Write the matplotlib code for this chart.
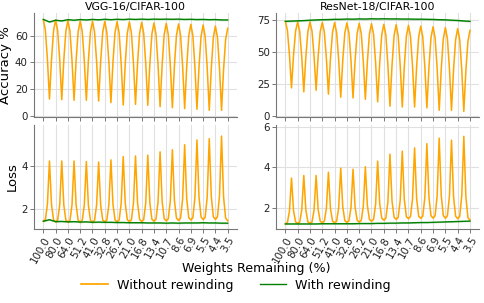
import numpy as np
import matplotlib
matplotlib.use("Agg")
import matplotlib.pyplot as plt
from matplotlib.lines import Line2D

# ---------------- data ----------------
weights_remaining = ["100.0", "80.0", "64.0", "51.2", "41.0", "32.8", "26.2", "21.0",
                     "16.8", "13.4", "10.7", "8.6", "6.9", "5.5", "4.4", "3.5"]
samples_per_round = 6   # orange curves: samples per pruning round
green_per_round = 2     # green curves: samples per pruning round

vgg_acc_no_rewind = [
    72, 64.0, 42.3, 12.5, 42.2, 63.9,
    71.8, 63.8, 41.9, 12, 41.7, 63.4,
    71.3, 63.3, 41.4, 11.5, 41.3, 63.0,
    71, 63.0, 41.3, 11.5, 41.2, 62.9,
    70.8, 62.8, 40.9, 11, 40.9, 62.7,
    70.7, 62.5, 40.3, 9.8, 40.2, 62.4,
    70.5, 62.1, 39.3, 8, 39.2, 62.0,
    70.3, 62.0, 39.4, 8.5, 39.3, 61.8,
    70, 61.7, 38.9, 7.8, 38.7, 61.2,
    69.5, 61.1, 38.2, 6.8, 38.0, 60.8,
    69.2, 60.7, 37.6, 6, 37.4, 60.4,
    68.8, 60.3, 37.1, 5.3, 36.9, 60.0,
    68.5, 60.0, 36.7, 4.8, 36.4, 59.5,
    68, 59.4, 36, 4, 35.6, 58.7,
    67.2, 58.7, 35.6, 4, 34.8, 57.3,
    65.5]
vgg_acc_rewind = [72.2, 70.3, 71.6, 71.1, 72.0, 71.6, 72.1, 71.8, 72.2, 71.9, 72.3,
                  72.0, 72.3, 72.1, 72.4, 72.2, 72.4, 72.2, 72.4, 72.3, 72.4, 72.3,
                  72.4, 72.2, 72.3, 72.1, 72.2, 72.0, 72.1, 71.8, 71.8]

res_acc_no_rewind = [
    73.7, 66.8, 47.8, 21.9, 47.6, 66.3,
    73.2, 65.9, 46.0, 18.8, 46.0, 65.9,
    73.2, 66.1, 46.6, 20, 46.5, 65.8,
    72.9, 65.4, 45.0, 17, 44.9, 65.2,
    72.7, 64.9, 43.7, 14.6, 43.5, 64.7,
    72.4, 64.6, 43.2, 14, 43.1, 64.3,
    72.1, 64.2, 42.6, 13, 42.5, 64.0,
    71.9, 63.7, 41.5, 11, 41.2, 63.3,
    71.4, 62.9, 39.5, 7.6, 39.4, 62.6,
    71.1, 62.5, 39.1, 7, 38.8, 62.1,
    70.6, 62.1, 38.8, 7, 38.5, 61.6,
    70, 61.5, 38.2, 6.3, 37.9, 61.0,
    69.5, 60.8, 37.0, 4.4, 36.6, 60.2,
    68.8, 60.2, 36.6, 4.4, 36.2, 59.5,
    68, 59.4, 35.8, 3.6, 35.2, 58.2,
    66.7]
res_acc_rewind = [73.7, 73.9, 74.1, 74.3, 74.6, 74.8, 75.0, 75.1, 75.3, 75.3, 75.5,
                  75.4, 75.6, 75.5, 75.7, 75.6, 75.7, 75.6, 75.6, 75.5, 75.5, 75.4,
                  75.4, 75.3, 75.2, 75.0, 74.9, 74.6, 74.4, 74.0, 73.7]

vgg_loss_no_rewind = [
    1.45, 1.53, 2.23, 4.23, 2.21, 1.50,
    1.42, 1.50, 2.21, 4.23, 2.20, 1.50,
    1.41, 1.49, 2.20, 4.23, 2.20, 1.49,
    1.41, 1.49, 2.19, 4.20, 2.19, 1.49,
    1.41, 1.49, 2.19, 4.18, 2.19, 1.50,
    1.42, 1.51, 2.22, 4.28, 2.22, 1.51,
    1.42, 1.51, 2.26, 4.43, 2.27, 1.52,
    1.43, 1.52, 2.28, 4.46, 2.29, 1.53,
    1.44, 1.53, 2.30, 4.50, 2.30, 1.54,
    1.45, 1.55, 2.35, 4.65, 2.36, 1.57,
    1.47, 1.57, 2.39, 4.75, 2.40, 1.59,
    1.49, 1.60, 2.47, 4.98, 2.48, 1.61,
    1.51, 1.62, 2.54, 5.20, 2.56, 1.64,
    1.53, 1.64, 2.57, 5.26, 2.58, 1.65,
    1.54, 1.66, 2.62, 5.38, 2.56, 1.59,
    1.47]
vgg_loss_rewind = [1.45, 1.52, 1.43, 1.44, 1.42, 1.43, 1.41, 1.42, 1.40, 1.41, 1.40,
                   1.40, 1.39, 1.39, 1.38, 1.38, 1.38, 1.37, 1.37, 1.37, 1.36, 1.37,
                   1.36, 1.37, 1.37, 1.37, 1.38, 1.37, 1.37, 1.36, 1.36]

res_loss_no_rewind = [
    1.20, 1.27, 1.83, 3.46, 1.85, 1.30,
    1.23, 1.30, 1.89, 3.59, 1.89, 1.30,
    1.23, 1.30, 1.89, 3.59, 1.91, 1.33,
    1.26, 1.34, 1.96, 3.75, 1.96, 1.34,
    1.26, 1.34, 2.01, 3.95, 2.03, 1.36,
    1.28, 1.36, 2.01, 3.90, 2.03, 1.38,
    1.30, 1.38, 2.06, 4.02, 2.09, 1.42,
    1.34, 1.43, 2.17, 4.30, 2.20, 1.48,
    1.39, 1.49, 2.30, 4.64, 2.33, 1.53,
    1.43, 1.53, 2.37, 4.79, 2.39, 1.56,
    1.46, 1.57, 2.44, 4.95, 2.45, 1.58,
    1.48, 1.59, 2.51, 5.16, 2.52, 1.60,
    1.49, 1.61, 2.59, 5.43, 2.59, 1.61,
    1.49, 1.61, 2.57, 5.33, 2.54, 1.58,
    1.46, 1.58, 2.60, 5.52, 2.55, 1.51,
    1.39]
res_loss_rewind = [1.20, 1.20, 1.20, 1.20, 1.20, 1.20, 1.21, 1.21, 1.21, 1.21, 1.21,
                   1.21, 1.22, 1.22, 1.22, 1.23, 1.23, 1.24, 1.24, 1.25, 1.25, 1.26,
                   1.27, 1.27, 1.28, 1.29, 1.30, 1.31, 1.32, 1.33, 1.34]

# spread (std) of the runs
vgg_acc_rewind_std = 0.6
res_acc_rewind_std = 0.6
vgg_loss_rewind_std = 0.03
res_loss_rewind_std = 0.03
acc_no_rewind_std = 0.8
loss_no_rewind_std = 0.05

titles = ["VGG-16/CIFAR-100", "ResNet-18/CIFAR-100"]
row_labels = ["Accuracy %", "Loss"]
legend_labels = ["Without rewinding", "With rewinding"]

# ---------------- plotting ----------------
ORANGE = "#ffa500"
GREEN = "#008000"
GRID = "#e0e0e0"
SPINE = "#777777"

W, H = 485, 303
fig = plt.figure(figsize=(W / 100, H / 100), dpi=100)

def px_axes(l, t, r, b):
    return fig.add_axes([l / W, 1 - b / H, (r - l) / W, (b - t) / H])

axes = [[px_axes(34.1, 13, 236.9, 117), px_axes(276.1, 13, 479.2, 117)],
        [px_axes(34.1, 125, 236.9, 229), px_axes(276.1, 125, 479.2, 229)]]

panels = [
    [(vgg_acc_no_rewind, acc_no_rewind_std, vgg_acc_rewind, vgg_acc_rewind_std,
      (-1.0, 77.0), [0, 20, 40, 60]),
     (res_acc_no_rewind, acc_no_rewind_std, res_acc_rewind, res_acc_rewind_std,
      (-0.8, 80.2), [0, 25, 50, 75])],
    [(vgg_loss_no_rewind, loss_no_rewind_std, vgg_loss_rewind, vgg_loss_rewind_std,
      (1.09, 5.89), [2, 4]),
     (res_loss_no_rewind, loss_no_rewind_std, res_loss_rewind, res_loss_rewind_std,
      (0.95, 6.08), [2, 4, 6])],
]

tick_pos = np.arange(len(weights_remaining))
for r in range(2):
    for c in range(2):
        ax = axes[r][c]
        orange, ostd, green, gstd, ylim, yticks = panels[r][c]
        xo = np.arange(len(orange)) / samples_per_round
        xg = np.arange(len(green)) / green_per_round
        o = np.array(orange)
        g = np.array(green)
        ax.fill_between(xo, o - ostd, o + ostd, color=ORANGE, alpha=0.3, lw=0, zorder=2)
        ax.fill_between(xg, g - gstd, g + gstd, color=GREEN, alpha=0.25, lw=0, zorder=2)
        ax.plot(xo, o, color=ORANGE, lw=1.1, zorder=3)
        ax.plot(xg, g, color=GREEN, lw=1.0, zorder=4)
        ax.set_xlim(-0.75, 15.75)
        ax.set_ylim(*ylim)
        ax.set_yticks(yticks)
        ax.set_xticks(tick_pos)
        ax.grid(True, color=GRID, lw=0.8, zorder=0)
        ax.set_axisbelow(True)
        for s in ["top", "right"]:
            ax.spines[s].set_visible(False)
        for s in ["left", "bottom"]:
            ax.spines[s].set_color(SPINE)
            ax.spines[s].set_linewidth(0.8)
        ax.tick_params(axis="both", length=3, width=0.7, color=SPINE,
                       labelsize=7.4, pad=1.5, labelcolor="#222222")
        if r == 0:
            ax.set_xticklabels([])
            ax.set_title(titles[c], fontsize=7.8, pad=2.5)
        else:
            ax.set_xticklabels(weights_remaining, rotation=60, ha="right",
                               rotation_mode="anchor", fontsize=7.4)
        if c == 0:
            ax.set_ylabel(row_labels[r], fontsize=9.5, labelpad=2)

fig.text(0.528, 1 - 272 / H, "Weights Remaining (%)", ha="center", va="baseline",
         fontsize=9.1)
handles = [Line2D([], [], color=ORANGE, lw=1.25), Line2D([], [], color=GREEN, lw=1.0)]
fig.legend(handles, legend_labels, loc="center", bbox_to_anchor=(0.487, 1 - 285 / H),
           ncol=2, frameon=False, fontsize=9.1, handlelength=2.1, columnspacing=2.1,
           handletextpad=0.7)

fig.savefig("out.png", dpi=100)
